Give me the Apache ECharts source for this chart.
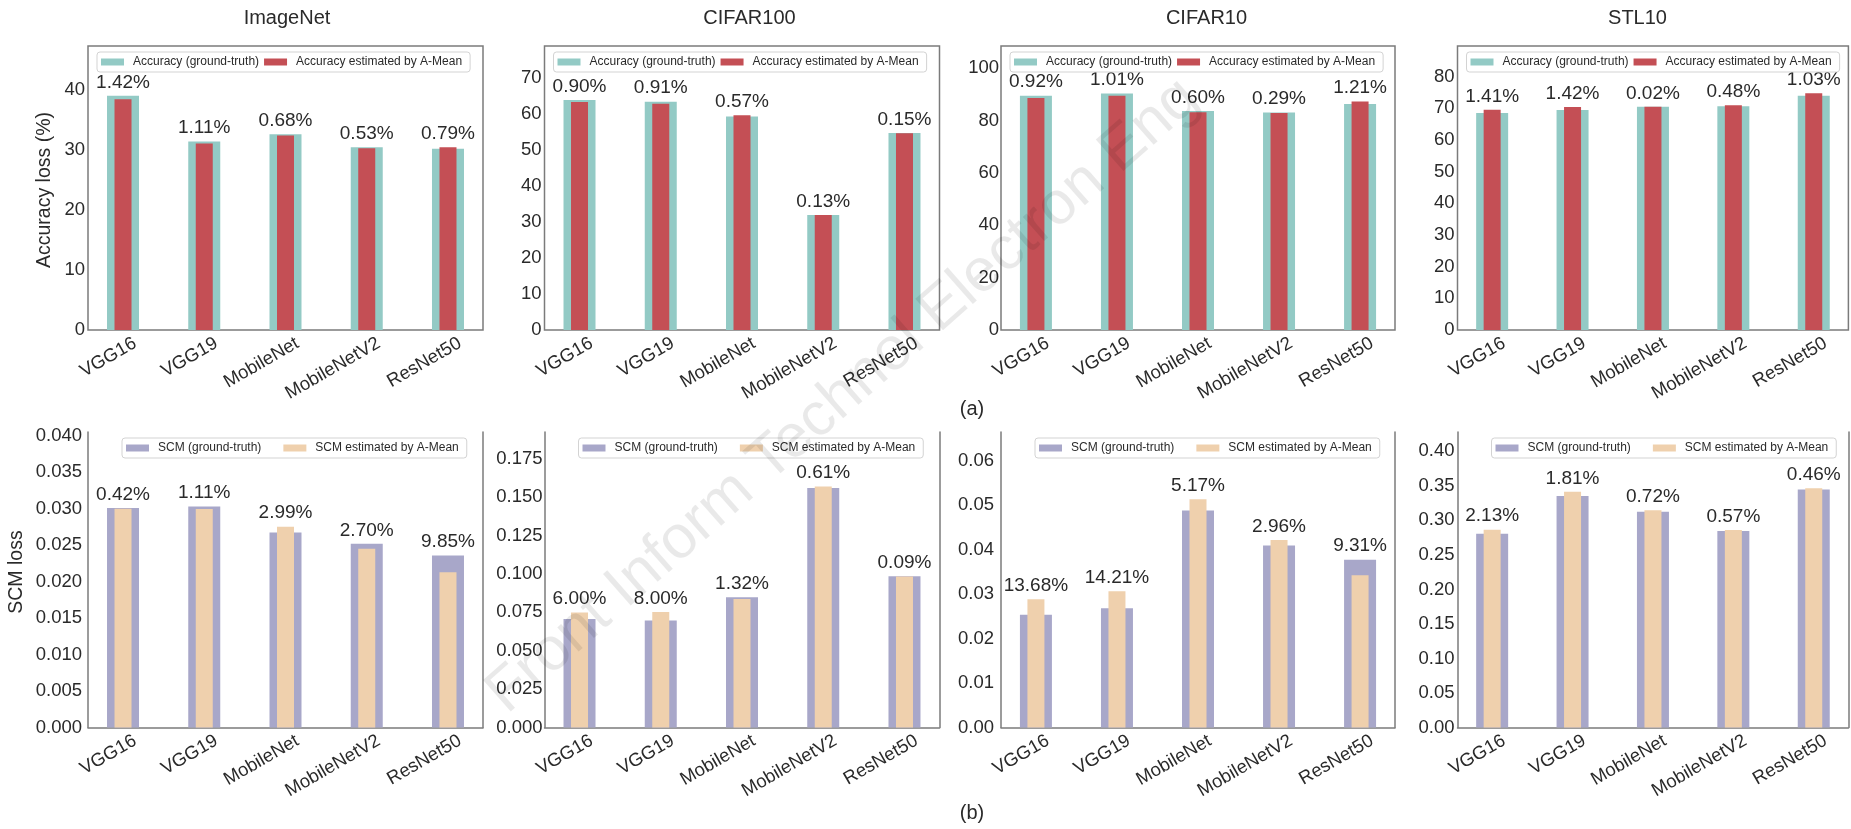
<!DOCTYPE html>
<html>
<head>
<meta charset="utf-8">
<title>A-Mean estimation: accuracy and SCM</title>
<script src="https://cdn.jsdelivr.net/npm/echarts@6/dist/echarts.min.js"></script>
<style>
  html, body { margin: 0; padding: 0; background: #ffffff; }
  #chart { width: 1851px; height: 829px; }
</style>
</head>
<body>
<div id="chart"></div>
<script>
// ---------------- data ----------------
const categories = ['VGG16', 'VGG19', 'MobileNet', 'MobileNetV2', 'ResNet50'];
const datasets = ['ImageNet', 'CIFAR100', 'CIFAR10', 'STL10'];

// (a) accuracy: ground truth vs. A-Mean estimate, with the relative gap printed above
const accTruthImageNet = [39.0, 31.4, 32.6, 30.45, 30.2];
const accEstImageNet   = [38.45, 31.05, 32.38, 30.29, 30.44];
const accGapImageNet   = ['1.42%', '1.11%', '0.68%', '0.53%', '0.79%'];

const accTruthCifar100 = [64.0, 63.5, 59.4, 32.0, 54.8];
const accEstCifar100   = [63.42, 62.92, 59.74, 31.96, 54.72];
const accGapCifar100   = ['0.90%', '0.91%', '0.57%', '0.13%', '0.15%'];

const accTruthCifar10 = [89.5, 90.4, 83.7, 83.1, 86.3];
const accEstCifar10   = [88.68, 89.49, 83.2, 82.86, 87.34];
const accGapCifar10   = ['0.92%', '1.01%', '0.60%', '0.29%', '1.21%'];

const accTruthStl10 = [68.5, 69.4, 70.4, 70.6, 73.9];
const accEstStl10   = [69.47, 70.39, 70.41, 70.94, 74.66];
const accGapStl10   = ['1.41%', '1.42%', '0.02%', '0.48%', '1.03%'];

// (b) SCM: ground truth vs. A-Mean estimate
const scmTruthImageNet = [0.0301, 0.0303, 0.02673, 0.02518, 0.02359];
const scmEstImageNet   = [0.02997, 0.02996, 0.02753, 0.0245, 0.02127];
const scmGapImageNet   = ['0.42%', '1.11%', '2.99%', '2.70%', '9.85%'];

const scmTruthCifar100 = [0.0707, 0.0697, 0.0848, 0.1561, 0.0985];
const scmEstCifar100   = [0.07494, 0.07528, 0.08368, 0.15705, 0.09841];
const scmGapCifar100   = ['6.00%', '8.00%', '1.32%', '0.61%', '0.09%'];

const scmTruthCifar10 = [0.02536, 0.02678, 0.04877, 0.04092, 0.0377];
const scmEstCifar10   = [0.02883, 0.03059, 0.05129, 0.04213, 0.03419];
const scmGapCifar10   = ['13.68%', '14.21%', '5.17%', '2.96%', '9.31%'];

const scmTruthStl10 = [0.2806, 0.3353, 0.3125, 0.2845, 0.3448];
const scmEstStl10   = [0.2866, 0.3414, 0.3147, 0.2861, 0.3464];
const scmGapStl10   = ['2.13%', '1.81%', '0.72%', '0.57%', '0.46%'];

// value-axis ranges and tick steps per panel
const accYMax  = [47.3, 79, 108.5, 89.6];
const accYStep = [10, 10, 20, 10];
const scmYMax  = [0.0405, 0.1925, 0.0664, 0.428];
const scmYStep = [0.005, 0.025, 0.01, 0.05];
const scmDecimals = [3, 3, 2, 2];

const accLegend = ['Accuracy (ground-truth)', 'Accuracy estimated by A-Mean'];
const scmLegend = ['SCM (ground-truth)', 'SCM estimated by A-Mean'];

// ---------------- layout & style ----------------
const FONT = '"Liberation Sans", Arial, Helvetica, sans-serif';
const TEXT = '#2a2a2a';
const AXIS = '#7b7b7b';

const panelLeft  = [88, 544.5, 1001, 1457.5];
const panelWidth = [395, 395, 394, 392.5];

// bars sit on a value axis so the outer padding matches a matplotlib bar plot
const X_MIN = -0.431, X_MAX = 4.431, LABEL_SHIFT = 0.148;

const rows = [
  {
    top: 46, height: 284, framed: true,
    truth: [accTruthImageNet, accTruthCifar100, accTruthCifar10, accTruthStl10],
    est:   [accEstImageNet, accEstCifar100, accEstCifar10, accEstStl10],
    gaps:  [accGapImageNet, accGapCifar100, accGapCifar10, accGapStl10],
    yMax: accYMax, yStep: accYStep, decimals: [0, 0, 0, 0],
    names: accLegend, colors: ['#93cac5', '#c44f55'],
    legendOffset: 9, legendGap: 5, yLabelMargin: [3, 3, 2, 3]
  },
  {
    top: 432, height: 295.5, framed: false,
    truth: [scmTruthImageNet, scmTruthCifar100, scmTruthCifar10, scmTruthStl10],
    est:   [scmEstImageNet, scmEstCifar100, scmEstCifar10, scmEstStl10],
    gaps:  [scmGapImageNet, scmGapCifar100, scmGapCifar10, scmGapStl10],
    yMax: scmYMax, yStep: scmYStep, decimals: scmDecimals,
    names: scmLegend, colors: ['#a8a7c9', '#efd0ad'],
    legendOffset: 34, legendGap: 22, yLabelMargin: [6, 2, 7, 3]
  }
];

const isStep = (v, step) => Math.abs(v / step - Math.round(v / step)) < 1e-6;

const grids = [], xAxes = [], yAxes = [], series = [], legends = [];

rows.forEach((row) => {
  datasets.forEach((ds, p) => {
    const g = grids.length;
    const spine = { show: !row.framed, onZero: false, lineStyle: { color: AXIS, width: 1.5 } };

    grids.push({
      left: panelLeft[p], top: row.top, width: panelWidth[p], height: row.height,
      show: row.framed, borderColor: AXIS, borderWidth: 1.5, backgroundColor: 'rgba(0,0,0,0)'
    });

    // two hidden axes carry the wide and the narrow bars so both stay centred
    const barAxis = { type: 'value', gridIndex: g, min: X_MIN, max: X_MAX, show: false };
    xAxes.push(Object.assign({}, barAxis));
    xAxes.push(Object.assign({}, barAxis));
    // visible axis for the rotated category names
    xAxes.push({
      type: 'value', gridIndex: g, position: 'bottom',
      min: X_MIN - LABEL_SHIFT, max: X_MAX - LABEL_SHIFT,
      minInterval: 1, maxInterval: 1,
      axisLine: spine, axisTick: { show: false }, splitLine: { show: false },
      axisLabel: {
        rotate: 30, margin: 12, fontSize: 18.5, color: TEXT, fontFamily: FONT,
        showMinLabel: true, showMaxLabel: true,
        formatter: (v) => (isStep(v, 1) && v >= 0 && v <= 4) ? categories[Math.round(v)] : ''
      }
    });

    const step = row.yStep[p], dec = row.decimals[p];
    yAxes.push({
      type: 'value', gridIndex: g, min: 0, max: row.yMax[p], interval: step,
      axisLine: spine, axisTick: { show: false }, splitLine: { show: false },
      axisLabel: {
        margin: row.yLabelMargin[p], fontSize: 18.5, color: TEXT, fontFamily: FONT,
        padding: [0, 0, 6, 0],
        showMaxLabel: false,
        formatter: (v) => isStep(v, step) ? v.toFixed(dec) : ''
      }
    });
    yAxes.push({
      type: 'value', gridIndex: g, position: 'right', min: 0, max: row.yMax[p], interval: step,
      axisLine: spine, axisTick: { show: false }, splitLine: { show: false },
      axisLabel: { show: false }
    });

    const truth = row.truth[p], est = row.est[p], gaps = row.gaps[p];
    const labelBase = { show: false, position: 'top', distance: 4, fontSize: 19, color: TEXT, fontFamily: FONT };

    series.push({
      type: 'bar', name: row.names[0], xAxisIndex: 3 * g, yAxisIndex: 2 * g,
      barWidth: 32, itemStyle: { color: row.colors[0] }, label: labelBase,
      data: truth.map((v, i) => v >= est[i]
        ? { value: [i, v], label: { show: true, formatter: gaps[i] } }
        : { value: [i, v] })
    });
    series.push({
      type: 'bar', name: row.names[1], xAxisIndex: 3 * g + 1, yAxisIndex: 2 * g,
      barWidth: 17, itemStyle: { color: row.colors[1] }, label: labelBase,
      data: est.map((v, i) => v > truth[i]
        ? { value: [i, v], label: { show: true, formatter: gaps[i] } }
        : { value: [i, v] })
    });

    legends.push({
      data: row.names, left: panelLeft[p] + row.legendOffset, top: row.top + 6,
      orient: 'horizontal', icon: 'rect', itemWidth: 23, itemHeight: 7, itemGap: row.legendGap,
      padding: [4, 8, 4, 4], borderColor: '#d3d3d3', borderWidth: 1, borderRadius: 3,
      backgroundColor: '#ffffff', selectedMode: false,
      textStyle: { fontSize: 12, color: TEXT, fontFamily: FONT, padding: [0, 0, 0, 4] }
    });
  });
});

// ---------------- free text ----------------
const titleX = [287, 749.5, 1206.5, 1637.5];
const graphics = [];
datasets.forEach((ds, p) => {
  graphics.push({
    type: 'text', x: titleX[p], y: 18,
    style: { text: ds, font: '20px ' + FONT, fill: TEXT, textAlign: 'center', textVerticalAlign: 'middle' }
  });
});
graphics.push({
  type: 'text', x: 45, y: 190, rotation: Math.PI / 2,
  style: { text: 'Accuracy loss (%)', font: '19.5px ' + FONT, fill: TEXT, textAlign: 'center', textVerticalAlign: 'middle' }
});
graphics.push({
  type: 'text', x: 17, y: 572, rotation: Math.PI / 2,
  style: { text: 'SCM loss', font: '19.5px ' + FONT, fill: TEXT, textAlign: 'center', textVerticalAlign: 'middle' }
});
graphics.push({
  type: 'text', x: 972, y: 409,
  style: { text: '(a)', font: '20px ' + FONT, fill: TEXT, textAlign: 'center', textVerticalAlign: 'middle' }
});
graphics.push({
  type: 'text', x: 972, y: 813,
  style: { text: '(b)', font: '20px ' + FONT, fill: TEXT, textAlign: 'center', textVerticalAlign: 'middle' }
});
// journal watermark across the middle of the figure
graphics.push({
  type: 'text', x: 843, y: 396, rotation: 0.7226, z: 100, silent: true,
  style: { text: 'Front Inform Technol Electron Eng', font: '61px ' + FONT, fill: 'rgba(0,0,0,0.085)', textAlign: 'center', textVerticalAlign: 'middle' }
});

const chart = echarts.init(document.getElementById('chart'), null, { renderer: 'canvas' });
chart.setOption({
  animation: false,
  backgroundColor: '#ffffff',
  grid: grids,
  xAxis: xAxes,
  yAxis: yAxes,
  legend: legends,
  series: series,
  graphic: graphics
});
</script>
</body>
</html>
